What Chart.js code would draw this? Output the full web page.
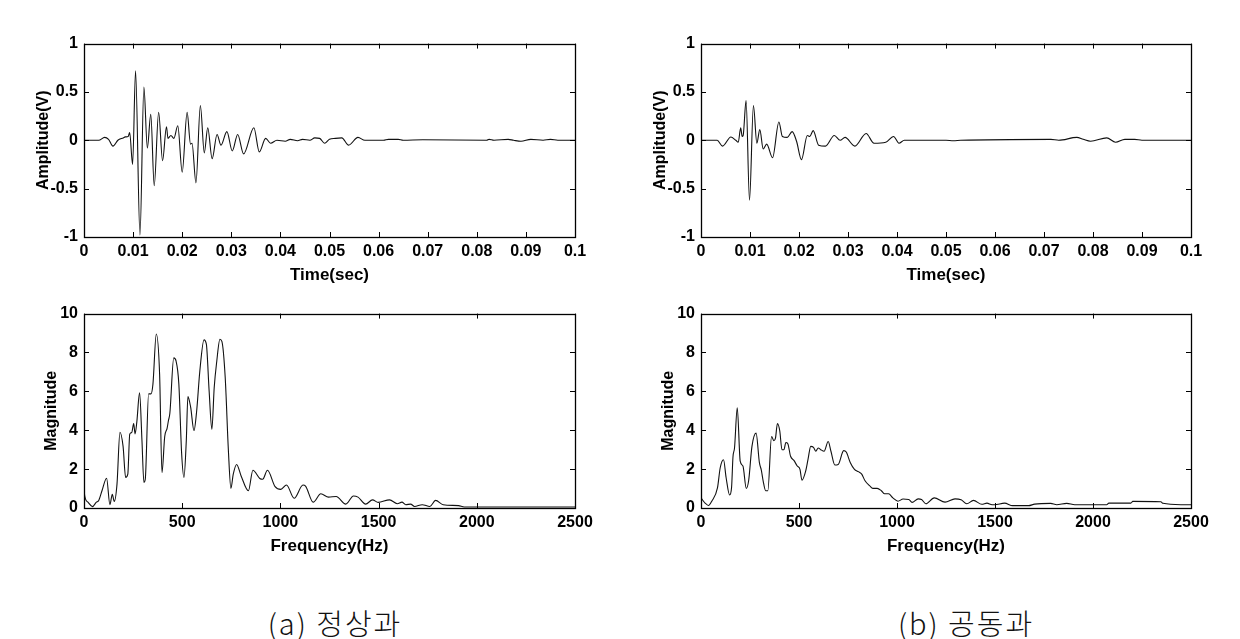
<!DOCTYPE html>
<html>
<head>
  <title>Amplitude / Magnitude</title>
  <script src="https://cdn.jsdelivr.net/npm/chart.js"></script>
  <style>
    body { margin: 0; background: #fff; width: 1240px; height: 639px; position: relative; overflow: hidden; }
    canvas { position: absolute; }
    .caption { position: absolute; top: 601px; font-family: "Noto Sans CJK KR", sans-serif; font-weight: 300;
               font-size: 29px; letter-spacing: 2px; color: #111; transform: translateX(-50%); white-space: nowrap; }
  </style>
</head>
<body>
  <canvas id="timeA" width="596" height="264" style="left:4px;top:28px"></canvas>
  <canvas id="timeB" width="595" height="264" style="left:621px;top:28px"></canvas>
  <canvas id="freqA" width="596" height="265" style="left:4px;top:298px"></canvas>
  <canvas id="freqB" width="595" height="265" style="left:621px;top:298px"></canvas>
  <div class="caption" style="left:335px">(a) 정상과</div>
  <div class="caption" style="left:966px">(b) 공동과</div>

  <script>
    // tick values and labels
    let timeTicks = [0, 0.01, 0.02, 0.03, 0.04, 0.05, 0.06, 0.07, 0.08, 0.09, 0.1];
    let timeTickLabels = ["0", "0.01", "0.02", "0.03", "0.04", "0.05", "0.06", "0.07", "0.08", "0.09", "0.1"];
    let ampTicks = [-1, -0.5, 0, 0.5, 1];
    let ampTickLabels = ["-1", "-0.5", "0", "0.5", "1"];
    let freqTicks = [0, 500, 1000, 1500, 2000, 2500];
    let magTicks = [0, 2, 4, 6, 8, 10];

    // (a) normal: time signal
    let timeA = [0, 0.003, 0.0042, 0.005, 0.0059, 0.0069, 0.008, 0.0084, 0.009, 0.0093, 0.0099, 0.0105,
      0.0114, 0.0122, 0.0129, 0.0136, 0.0143, 0.0152, 0.016, 0.0168, 0.0171, 0.0177, 0.0183, 0.0191,
      0.02, 0.021, 0.0217, 0.022, 0.0228, 0.0237, 0.0245, 0.0252, 0.0261, 0.0271, 0.0279, 0.0291,
      0.0302, 0.0313, 0.0325, 0.0346, 0.0357, 0.037, 0.038, 0.0393, 0.041, 0.042, 0.0435, 0.0445,
      0.046, 0.047, 0.048, 0.049, 0.05, 0.0512, 0.0525, 0.0539, 0.0558, 0.0572, 0.061, 0.062, 0.064,
      0.065, 0.069, 0.082, 0.0825, 0.0835, 0.0864, 0.0875, 0.089, 0.091, 0.0935, 0.095, 0.0965, 0.1];
    let ampA = [0, 0, 0.03, 0.01, -0.06, 0, 0.025, 0.035, 0.04, 0.08, -0.25, 0.72,
      -0.98, 0.55, -0.08, 0.27, -0.47, 0.29, -0.21, 0.14, 0.02, 0.05, 0.02, 0.15,
      -0.33, 0.29, -0.04, -0.03, -0.44, 0.36, -0.13, 0.13, -0.19, 0.06, -0.05, 0.09,
      -0.11, 0.06, -0.14, 0.13, -0.12, 0.02, -0.03, 0, -0.01, 0.01, -0.005, 0.01,
      0, 0.025, 0.02, -0.03, 0.01, 0.02, 0.025, -0.05, 0.03, 0, 0, 0.01, 0.01,
      0, 0.005, 0, 0.01, 0, 0.01, 0, -0.01, 0.01, 0, 0.01, 0, 0];

    // (b) cavity: time signal
    let timeB = [0, 0.0033, 0.0044, 0.0061, 0.0071, 0.0076, 0.0081, 0.0084, 0.0086, 0.0092, 0.0099,
      0.0107, 0.0114, 0.012, 0.0127, 0.0134, 0.0146, 0.0159, 0.0166, 0.0176, 0.0186, 0.0195, 0.0205,
      0.0217, 0.0222, 0.0229, 0.024, 0.0254, 0.0272, 0.0284, 0.0294, 0.0314, 0.0337, 0.0353, 0.0377,
      0.0393, 0.0404, 0.0415, 0.05, 0.0515, 0.053, 0.0714, 0.073, 0.0767, 0.078, 0.0795, 0.0828,
      0.0846, 0.0865, 0.0885, 0.09, 0.1];
    let ampB = [0, 0, -0.06, 0.034, 0, -0.02, 0.13, 0.04, 0.05, 0.41, -0.62,
      0.36, -0.03, 0.11, -0.09, -0.04, -0.18, 0.19, 0.04, 0.03, 0.09, -0.01, -0.2,
      0.05, 0.04, 0.1, -0.05, -0.06, 0.05, 0, 0.03, -0.06, 0.07, -0.03, -0.02,
      0.04, -0.03, 0, 0, -0.005, 0, 0.01, 0, 0.03, 0.01, -0.01, 0.025,
      -0.02, 0.01, 0.01, 0, 0];

    // (a) normal: spectrum
    let freqA = [0, 3, 20, 43, 63, 75, 92, 115, 132, 144, 154, 168, 183, 199, 212, 223, 233, 243, 253,
      260, 269, 283, 295, 305, 312, 329, 341, 351, 368, 385, 397, 411, 423, 430, 437, 457, 469, 483,
      497, 509, 521, 529, 543, 560, 574, 589, 611, 623, 637, 651, 663, 676, 692, 702, 719, 735, 748,
      760, 777, 800, 837, 860, 895, 910, 934, 973, 1002, 1031, 1070, 1115, 1128, 1167, 1206, 1245,
      1284, 1333, 1372, 1395, 1434, 1469, 1498, 1556, 1595, 1619, 1638, 1663, 1683, 1722, 1761,
      1790, 1829, 1907, 1936, 2500];
    let magA = [1.2, 0.67, 0.3, 0.07, 0.3, 0.39, 0.9, 1.53, 0.17, 0.71, 0.34, 1.23, 3.9, 3.17, 1.57,
      1.74, 3.8, 3.88, 4.35, 3.81, 4.43, 5.92, 3.5, 1.32, 1.48, 5.87, 5.87, 6.37, 8.95, 6.88, 1.82,
      3.68, 4.1, 4.5, 4.86, 7.72, 7.55, 6.37, 2.83, 1.57, 3.5, 5.73, 5.19, 3.98, 5.03, 6.96, 8.65,
      8.43, 6.04, 4.05, 6.2, 7.55, 8.68, 8.57, 6.71, 3.0, 1.01, 1.74, 2.24, 1.65, 0.89, 1.94, 1.52,
      1.48, 1.94, 1.1, 0.96, 1.18, 0.5, 1.18, 1.13, 0.3, 0.73, 0.56, 0.59, 0.2, 0.62, 0.56, 0.2,
      0.42, 0.29, 0.42, 0.22, 0.3, 0.17, 0.2, 0.08, 0.17, 0.08, 0.39, 0.17, 0.12, 0.05, 0.05];

    // (b) cavity: spectrum
    let freqB = [0, 21, 38, 55, 84, 98, 115, 128, 146, 156, 163, 171, 185, 200, 214, 231, 243, 260,
      281, 298, 308, 317, 330, 341, 360, 372, 380, 390, 402, 413, 423, 433, 443, 457, 474, 491, 505,
      515, 534, 546, 560, 574, 586, 598, 611, 628, 649, 663, 683, 700, 728, 741, 762, 783, 803, 820,
      837, 860, 877, 899, 920, 937, 957, 979, 1005, 1031, 1060, 1077, 1108, 1125, 1147, 1190, 1245,
      1296, 1327, 1356, 1390, 1433, 1459, 1485, 1498, 1549, 1590, 1671, 1702, 1784, 1815, 1866,
      1907, 2070, 2081, 2193, 2203, 2346, 2357, 2449, 2500];
    let magB = [0.52, 0.25, 0.13, 0.35, 1.03, 2.07, 2.48, 1.57, 0.67, 1.06, 2.61, 3.09, 5.16, 2.41,
      2.16, 1.01, 1.4, 3.17, 3.85, 2.33, 1.94, 1.4, 0.89, 0.89, 3.68, 3.46, 3.59, 4.35, 3.96, 3.0,
      3.0, 3.37, 3.31, 2.66, 2.45, 2.16, 1.99, 1.43, 1.9, 2.5, 3.17, 3.12, 2.92, 3.09, 3.0, 2.92,
      3.42, 2.92, 2.21, 2.24, 2.95, 2.88, 2.33, 1.99, 1.87, 1.74, 1.4, 1.15, 1.01, 1.01, 0.89, 0.73,
      0.73, 0.52, 0.35, 0.46, 0.44, 0.29, 0.47, 0.44, 0.22, 0.52, 0.3, 0.47, 0.42, 0.22, 0.39, 0.19,
      0.25, 0.17, 0.17, 0.25, 0.12, 0.12, 0.2, 0.24, 0.17, 0.24, 0.17, 0.17, 0.25, 0.25, 0.34, 0.32,
      0.24, 0.17, 0.17];

    const tickFont = { family: "'Liberation Sans Narrow', 'Liberation Sans', Arial", weight: "bold", size: 16 };
    const xTitleFont = { family: "'Liberation Sans Narrow', 'Liberation Sans', Arial", weight: "bold", size: 17 };
    const yTitleFont = { family: "'Liberation Sans', Arial", weight: "bold", size: 16 };

    // box around the plot + inward ticks on all four sides (matlab look)
    const frame = {
      id: "frame",
      afterDatasetsDraw(chart) {
        const { ctx, chartArea: a, scales: { x, y } } = chart;
        const len = 5;
        ctx.save();
        ctx.strokeStyle = "#000";
        ctx.lineWidth = 1;
        ctx.beginPath();
        x.ticks.forEach(t => {
          const px = Math.round(x.getPixelForValue(t.value)) + 0.5;
          ctx.moveTo(px, a.bottom); ctx.lineTo(px, a.bottom - len);
          ctx.moveTo(px, a.top); ctx.lineTo(px, a.top + len);
        });
        y.ticks.forEach(t => {
          const py = Math.round(y.getPixelForValue(t.value)) + 0.5;
          ctx.moveTo(a.left, py); ctx.lineTo(a.left + len, py);
          ctx.moveTo(a.right, py); ctx.lineTo(a.right - len, py);
        });
        ctx.stroke();
        ctx.lineWidth = 1.3;
        ctx.strokeRect(Math.round(a.left) + 0.5, Math.round(a.top) + 0.5,
                       Math.round(a.width), Math.round(a.height));
        ctx.restore();
      }
    };

    function makePanel(id, xs, ys, opt) {
      const points = xs.map((v, i) => ({ x: v, y: ys[i] }));
      return new Chart(document.getElementById(id), {
        type: "line",
        data: {
          datasets: [{
            data: points,
            borderColor: "#111",
            borderWidth: 1.1,
            pointRadius: 0,
            cubicInterpolationMode: "monotone",
            fill: false
          }]
        },
        options: {
          responsive: false,
          animation: false,
          devicePixelRatio: 1,
          layout: { padding: { left: 0, top: 12, right: 25, bottom: 0 } },
          plugins: { legend: { display: false }, tooltip: { enabled: false } },
          scales: {
            x: {
              type: "linear",
              min: opt.xmin, max: opt.xmax,
              grid: { display: false, drawTicks: false },
              border: { display: false },
              afterBuildTicks: s => { s.ticks = opt.xTicks.map(v => ({ value: v })); },
              afterFit: s => { s.height = 55; },
              ticks: {
                padding: 5,
                color: "#000",
                font: tickFont,
                maxRotation: 0,
                autoSkip: false,
                callback: (v, i) => opt.xLabels[i]
              },
              title: { display: true, text: opt.xTitle, color: "#000", font: xTitleFont, padding: { top: 0, bottom: 6 } }
            },
            y: {
              min: opt.ymin, max: opt.ymax,
              grid: { display: false, drawTicks: false },
              border: { display: false },
              afterBuildTicks: s => { s.ticks = opt.yTicks.map(v => ({ value: v })); },
              afterFit: s => { s.width = 80; },
              ticks: {
                padding: 6,
                color: "#000",
                font: tickFont,
                autoSkip: false,
                callback: (v, i) => opt.yLabels[i]
              },
              title: { display: true, text: opt.yTitle, color: "#000", font: yTitleFont, padding: { top: opt.yTitlePad, bottom: 0 } }
            }
          }
        },
        plugins: [frame]
      });
    }

    const timeOpt = {
      xmin: 0, xmax: 0.1, ymin: -1, ymax: 1,
      xTicks: timeTicks, xLabels: timeTickLabels,
      yTicks: ampTicks, yLabels: ampTickLabels,
      xTitle: "Time(sec)", yTitle: "Amplitude(V)", yTitlePad: 30
    };
    const freqOpt = {
      xmin: 0, xmax: 2500, ymin: 0, ymax: 10,
      xTicks: freqTicks, xLabels: freqTicks.map(String),
      yTicks: magTicks, yLabels: magTicks.map(String),
      xTitle: "Frequency(Hz)", yTitle: "Magnitude", yTitlePad: 38
    };

    makePanel("timeA", timeA, ampA, timeOpt);
    makePanel("timeB", timeB, ampB, timeOpt);
    makePanel("freqA", freqA, magA, freqOpt);
    makePanel("freqB", freqB, magB, freqOpt);
  </script>
</body>
</html>
